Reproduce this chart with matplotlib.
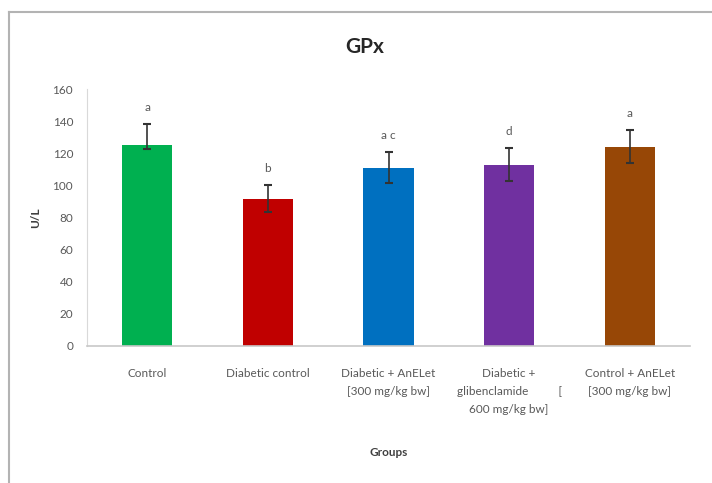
import matplotlib.pyplot as plt
from matplotlib.lines import Line2D

plt.rcParams['font.family'] = ['Lato', 'DejaVu Sans']

groups = [
    "Control",
    "Diabetic control",
    "Diabetic + AnELet\n[300 mg/kg bw]",
    "Diabetic +\nglibenclamide          [\n600 mg/kg bw]",
    "Control + AnELet\n[300 mg/kg bw]",
]
gpx = [125, 91.5, 111, 112.5, 124]
err_low = [2.5, 8, 9.5, 10, 10]
err_high = [13, 8.5, 9.5, 10.5, 10.5]
letters = ["a", "b", "a c", "d", "a"]
colors = ["#00b050", "#c00000", "#0070c0", "#7030a0", "#974706"]

fig = plt.figure(figsize=(7.12, 4.83), dpi=100)
ax = fig.add_axes([87 / 712, 137 / 483, 603 / 712, 257 / 483])

x = range(len(groups))
ax.bar(x, gpx, width=0.415, color=colors, zorder=2)
ax.errorbar(x, gpx, yerr=[err_low, err_high], fmt="none", ecolor="#333333",
            elinewidth=1.2, capsize=3, capthick=1.5, zorder=3)

for i, lab in enumerate(letters):
    ax.annotate(lab, (i, gpx[i] + err_high[i]), xytext=(0, 8),
                textcoords="offset points", ha="center", va="bottom",
                fontsize=8.5, color="#595959")

ax.set_xlim(-0.5, len(groups) - 0.5)
ax.set_ylim(0, 160)
ax.set_yticks(range(0, 161, 20))
ax.set_xticks(list(x))
ax.set_xticklabels(groups, linespacing=1.75)
ax.tick_params(axis="x", length=0, pad=16, labelsize=8.5, labelcolor="#595959")
ax.tick_params(axis="y", length=0, pad=10, labelsize=8.5, labelcolor="#595959")

for s in ["top", "right"]:
    ax.spines[s].set_visible(False)
ax.spines["left"].set_color("#d9d9d9")
ax.spines["bottom"].set_color("#c8c8c8")
ax.spines["bottom"].set_linewidth(1.2)

ax.set_xlabel("Groups", fontsize=8.5, fontweight="bold", color="#404040", labelpad=23)
ax.set_ylabel("U/L", fontsize=8.5, fontweight="bold", color="#404040", labelpad=8)

fig.text(365 / 712, 1 - 47 / 483, "GPx", ha="center", va="center",
         fontsize=15, fontweight="bold", color="#262626")

# outer frame of the chart area
fig.add_artist(Line2D([8.5 / 712, 8.5 / 712], [0, 1 - 12 / 483],
                      transform=fig.transFigure, color="#b3b3b3", lw=1.5))
fig.add_artist(Line2D([8.5 / 712, 1], [1 - 12 / 483, 1 - 12 / 483],
                      transform=fig.transFigure, color="#b3b3b3", lw=1.5))

fig.savefig("out.png", dpi=100)
